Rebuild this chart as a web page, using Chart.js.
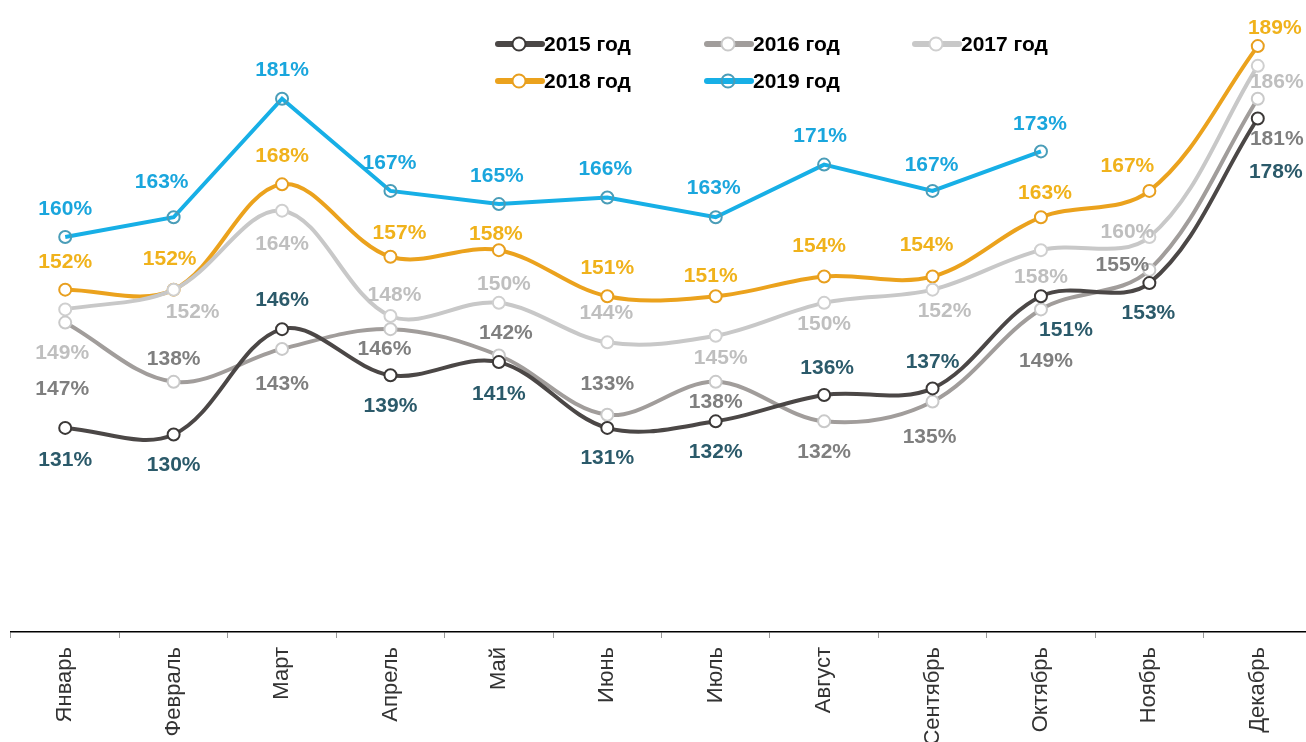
<!DOCTYPE html>
<html>
<head>
<meta charset="utf-8">
<script src="https://cdn.jsdelivr.net/npm/chart.js@4/dist/chart.umd.min.js"></script>
<style>
  body { margin: 0; background: #fff; overflow: hidden; }
  #wrap { width: 1312px; height: 742px; position: relative; }
</style>
</head>
<body>
<div id="wrap"><canvas id="my-chart"></canvas></div>
<script>
const months = ['Январь', 'Февраль', 'Март', 'Апрель', 'Май', 'Июнь', 'Июль', 'Август', 'Сентябрь', 'Октябрь', 'Ноябрь', 'Декабрь'];

const y2015 = [131, 130, 146, 139, 141, 131, 132, 136, 137, 151, 153, 178];
const y2016 = [147, 138, 143, 146, 142, 133, 138, 132, 135, 149, 155, 181];
const y2017 = [149, 152, 164, 148, 150, 144, 145, 150, 152, 158, 160, 186];
const y2018 = [152, 152, 168, 157, 158, 151, 151, 154, 154, 163, 167, 189];
const y2019 = [160, 163, 181, 167, 165, 166, 163, 171, 167, 173];

// where each value label sits relative to its point (dx, dy in px)
const off2015 = [[0,32],[0,31],[0,-29],[0,31],[0,32],[0,30],[0,31],[3,-27],[0,-26],[25,34],[-1,30],[18,54]];
const off2016 = [[-3,67],[0,-23],[0,35],[-6,20],[7,-22],[0,-31],[0,20],[0,31],[-3,36],[5,52],[-27,-5],[19,40]];
const off2017 = [[-3,44],[19,23],[0,34],[4,-21],[5,-19],[-1,-29],[5,22],[0,21],[12,22],[0,27],[-22,-5],[19,16]];
const off2018 = [[0,-27],[-4,-30],[0,-28],[9,-24],[-3,-16],[0,-28],[-5,-20],[-5,-30],[-6,-31],[4,-24],[-22,-25],[17,-18]];
const off2019 = [[0,-28],[-12,-35],[0,-29],[-1,-28],[-2,-28],[-2,-28],[-2,-29],[-4,-28],[-1,-26],[-1,-27]];

function series(label, data, line, marker, fill, text, offsets, tension) {
  return {
    label, data,
    borderColor: line,
    borderWidth: 4,
    tension,
    pointRadius: 6,
    pointBorderWidth: 2,
    pointBorderColor: marker,
    pointBackgroundColor: fill,
    labelColor: text,
    labelOffsets: offsets
  };
}

const datasets = [
  series('2015 год', y2015, '#4b4746', '#3b3837', '#fff', '#2b5a6a', off2015, 0.35),
  series('2016 год', y2016, '#a19d9b', '#c9c9c9', '#fff', '#7f7f7f', off2016, 0.35),
  series('2017 год', y2017, '#c8c8c8', '#cfcfcf', '#fff', '#bfbfbf', off2017, 0.35),
  series('2018 год', y2018, '#eba21d', '#e89f1e', '#fff', '#f0b21b', off2018, 0.35),
  series('2019 год', y2019, '#17afe6', '#4a9db8', 'rgba(0,0,0,0)', '#1aa6dd', off2019, 0)
];

const valueLabels = {
  id: 'valueLabels',
  afterDatasetsDraw(chart) {
    const ctx = chart.ctx;
    ctx.save();
    ctx.font = 'bold 21px Arial, "Liberation Sans", sans-serif';
    ctx.textAlign = 'center';
    ctx.textBaseline = 'middle';
    chart.data.datasets.forEach((ds, i) => {
      const meta = chart.getDatasetMeta(i);
      ctx.fillStyle = ds.labelColor;
      meta.data.forEach((pt, j) => {
        const o = ds.labelOffsets[j] || [0, -28];
        ctx.fillText(ds.data[j] + '%', pt.x + o[0], pt.y + o[1]);
      });
    });
    ctx.restore();
  }
};

const customLegend = {
  id: 'customLegend',
  afterDraw(chart) {
    const ctx = chart.ctx;
    const spots = [[498, 44], [707, 44], [915, 44], [498, 81], [707, 81]];
    ctx.save();
    ctx.font = 'bold 21px Arial, "Liberation Sans", sans-serif';
    ctx.textBaseline = 'middle';
    ctx.textAlign = 'left';
    chart.data.datasets.forEach((ds, i) => {
      const [x, y] = spots[i];
      ctx.beginPath();
      ctx.moveTo(x, y);
      ctx.lineTo(x + 44, y);
      ctx.lineWidth = 6;
      ctx.lineCap = 'round';
      ctx.strokeStyle = ds.borderColor;
      ctx.stroke();
      ctx.beginPath();
      ctx.arc(x + 21, y, 6.5, 0, Math.PI * 2);
      if (ds.pointBackgroundColor !== 'rgba(0,0,0,0)') {
        ctx.fillStyle = '#fff';
        ctx.fill();
      }
      ctx.lineWidth = 2;
      ctx.strokeStyle = ds.pointBorderColor;
      ctx.stroke();
      ctx.fillStyle = '#000';
      ctx.fillText(ds.label, x + 46, y + 1);
    });
    ctx.restore();
  }
};

new Chart(document.getElementById('my-chart'), {
  type: 'line',
  data: { labels: months, datasets },
  options: {
    responsive: true,
    maintainAspectRatio: false,
    animation: false,
    layout: { autoPadding: false, padding: { left: 11, right: 0, top: 0, bottom: 0 } },
    plugins: {
      legend: { display: false },
      tooltip: { enabled: false }
    },
    scales: {
      x: {
        offset: true,
        afterFit(scale) {
          scale.height = 110;
          scale.paddingLeft = 0;
          scale.paddingRight = 0;
        },
        border: { display: true, color: '#000', width: 1.5 },
        grid: {
          offset: true,
          drawOnChartArea: false,
          drawTicks: true,
          tickLength: 6,
          color: '#999'
        },
        ticks: {
          autoSkip: false,
          maxRotation: 90,
          minRotation: 90,
          padding: 9,
          color: '#333',
          font: { family: 'Arial, "Liberation Sans", sans-serif', size: 22 }
        }
      },
      y: {
        display: false,
        min: 100,
        max: 196
      }
    }
  },
  plugins: [valueLabels, customLegend]
});
</script>
</body>
</html>
